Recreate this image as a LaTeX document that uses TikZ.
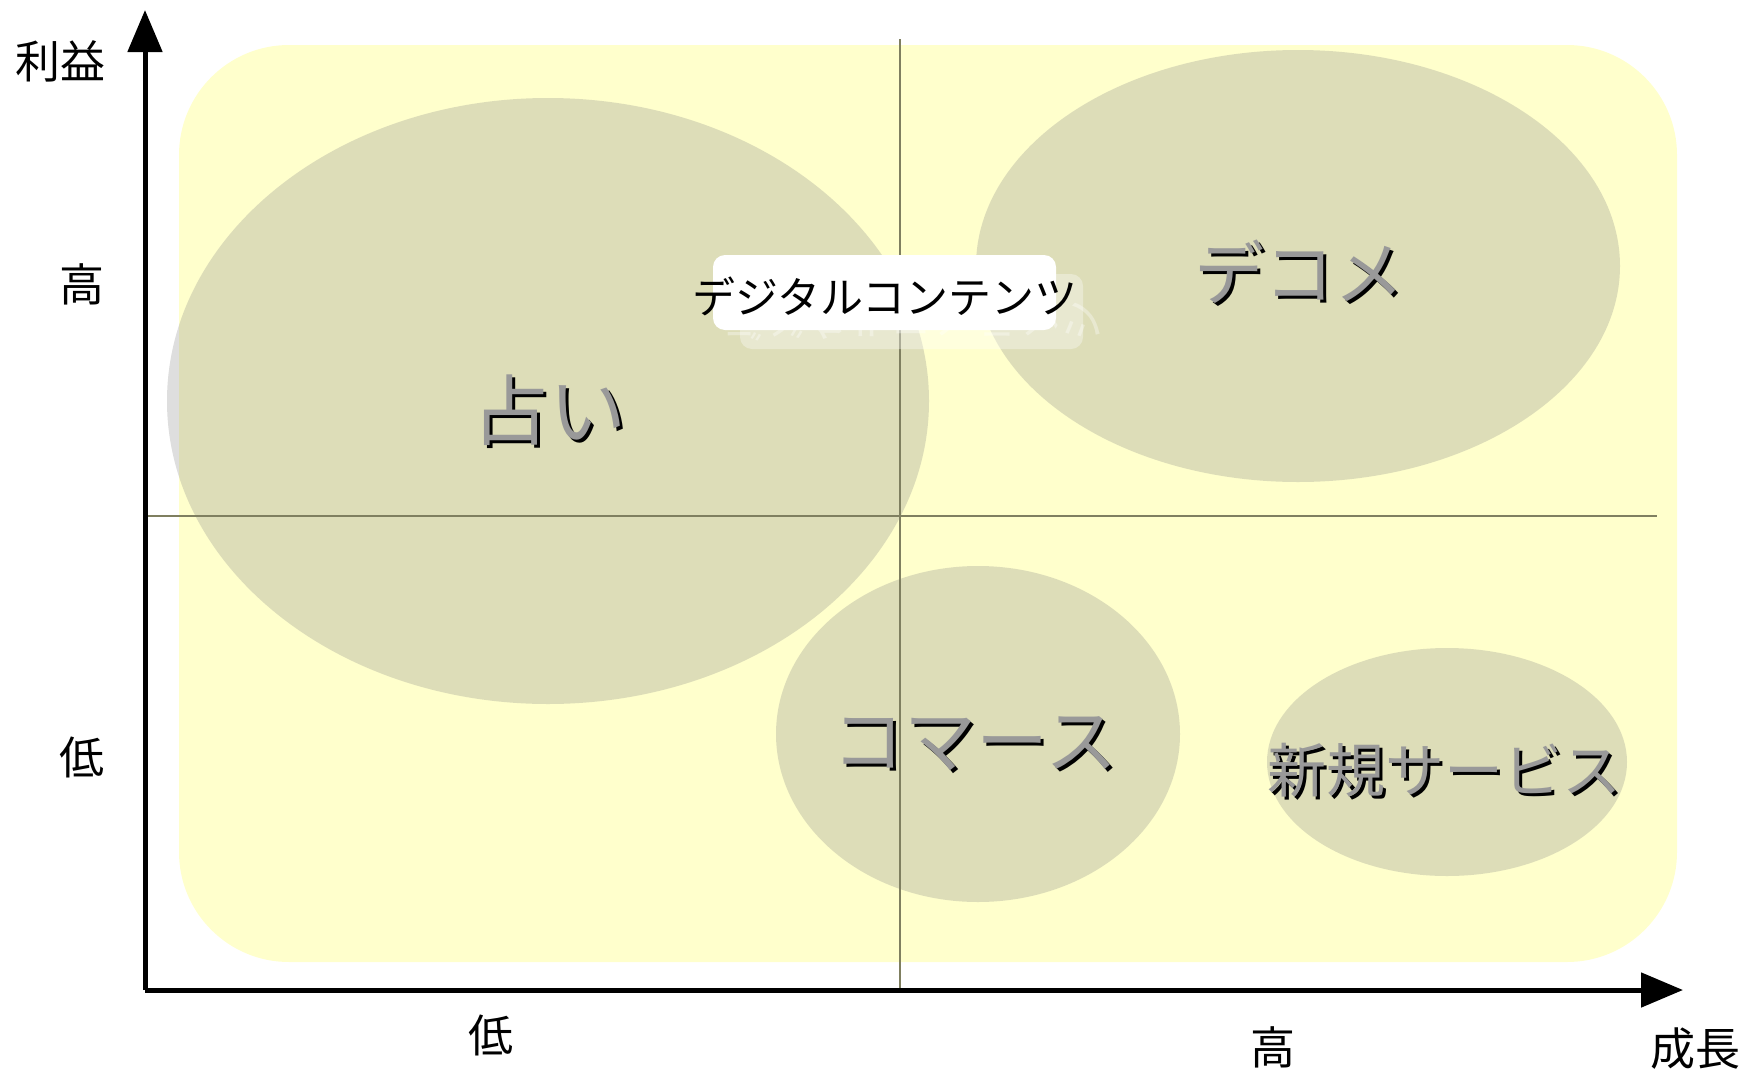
\documentclass[tikz,border=0pt]{standalone}
\usepackage{fontspec}
\newfontfamily\jp{Noto Sans CJK JP}
\usetikzlibrary{arrows.meta}
\definecolor{bgyellow}{HTML}{FFFFCC}
\definecolor{blobgray}{HTML}{868686}
\definecolor{quadline}{HTML}{7F7F60}
\definecolor{labgray}{HTML}{999999}
\tikzset{
  blob/.style={fill=blobgray, fill opacity=0.275, draw=none},
  axis/.style={line width=5pt, -{Triangle[length=42pt,width=34pt]}},
  quad/.style={line width=2pt, draw=quadline},
  axlab/.style={font=\jp\fontsize{45}{45}\selectfont, inner sep=0pt},
  bigshadow/.style={font=\jp\fontsize{72}{72}\selectfont, inner sep=0pt, text=black},
  bigtext/.style={font=\jp\fontsize{72}{72}\selectfont, inner sep=0pt, text=labgray},
  midshadow/.style={font=\jp\fontsize{59}{59}\selectfont, inner sep=0pt, text=black},
  midtext/.style={font=\jp\fontsize{59}{59}\selectfont, inner sep=0pt, text=labgray},
}
\begin{document}
\begin{tikzpicture}[x=1pt,y=-1pt]
\useasboundingbox (0,0) rectangle (1743,1071);
% background
\fill[bgyellow, rounded corners=110pt] (179,45) rectangle (1677,962);
% blobs
\fill[blob] (548,401) ellipse [x radius=381, y radius=303];
\fill[blob] (1298,266) ellipse [x radius=322, y radius=216];
\fill[blob] (978,734) ellipse [x radius=202, y radius=168];
\fill[blob] (1447,762) ellipse [x radius=180, y radius=114];
% quadrant lines
\coordinate (vtop) at (900,39);
\coordinate (vbot) at (900,990);
\coordinate (hl) at (145,516);
\coordinate (hr) at (1657,516);
\draw[quad] (vtop) -- (vbot);
\draw[quad] (hl) -- (hr);
% axes
\coordinate (origin) at (145,990);
\coordinate (ytip) at (145,10);
\coordinate (xtip) at (1683,990);
\draw[axis] (origin) -- (ytip);
\draw[axis] (origin) -- (xtip);
% axis labels
\node[axlab] (profit) at (61,61) {利益};
\node[axlab] (yhigh) at (82,284) {高};
\node[axlab] (ylow) at (82,757) {低};
\node[axlab] (xlow) at (491,1035) {低};
\node[axlab] (xhigh) at (1273,1047) {高};
\node[axlab] (growth) at (1695,1049) {成長};
% big labels with shadow
\node[bigshadow, font=\jp\fontsize{77}{77}\selectfont] (uranais) at (552,413) {占い};
\node[bigtext, font=\jp\fontsize{77}{77}\selectfont] (uranai) at (549,410) {占い};
\node[bigshadow, font=\jp\fontsize{70}{70}\selectfont] (decomes) at (1302,275) {デコメ};
\node[bigtext, font=\jp\fontsize{70}{70}\selectfont] (decome) at (1299,272) {デコメ};
\node[bigshadow] (commerces) at (978,747) {コマース};
\node[bigtext] (commerce) at (975,744) {コマース};
\node[midshadow] (newsvcs) at (1447,773) {新規サービス};
\node[midtext] (newsvc) at (1444,770) {新規サービス};
% digital contents box with reflection
\fill[white, fill opacity=0.35, rounded corners=12pt] (740,274) rectangle (1083,349);
\node[font=\jp\fontsize{43}{43}\selectfont, text=white, text opacity=0.35, yscale=-1, inner sep=0pt] (dcref) at (912,322) {デジタルコンテンツ};
\fill[white, rounded corners=12pt] (713,255) rectangle (1056,330);
\node[font=\jp\fontsize{43}{43}\selectfont, text=black, inner sep=0pt] (dc) at (885,296) {デジタルコンテンツ};
\end{tikzpicture}
\end{document}
